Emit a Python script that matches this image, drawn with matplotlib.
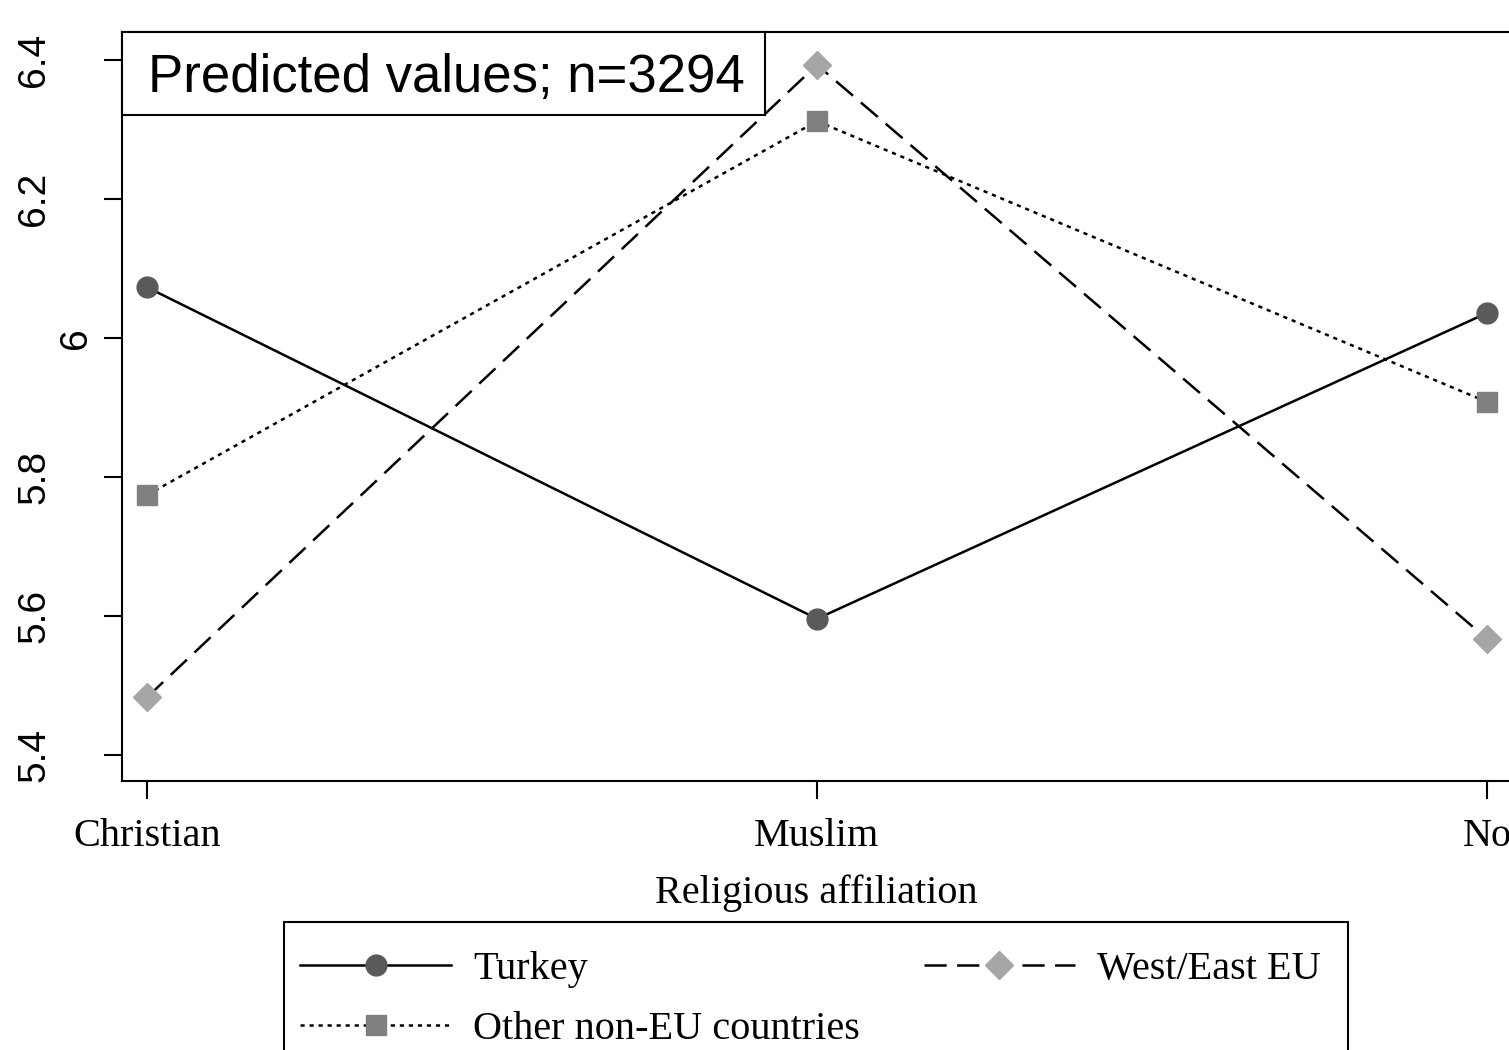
import matplotlib
matplotlib.use("Agg")
import matplotlib.pyplot as plt
from matplotlib.patches import Rectangle
from matplotlib.transforms import blended_transform_factory

categories = ["Christian", "Muslim", "No"]
turkey = [6.073, 5.596, 6.036]
west_east_eu = [5.483, 6.393, 5.567]
other_non_eu = [5.774, 6.312, 5.908]
yticks = [5.4, 5.6, 5.8, 6.0, 6.2, 6.4]
ytick_labels = ["5.4", "5.6", "5.8", "6", "6.2", "6.4"]

plt.rcParams['lines.scale_dashes'] = False
SERIF = ['Liberation Serif', 'DejaVu Serif']
SANS = ['Liberation Sans', 'DejaVu Sans']

W, H = 1509, 1050
fig = plt.figure(figsize=(W/100, H/100), dpi=100)
AX_L, AX_B, AX_W, AX_H = 122, 781, 1390, 749
ax = fig.add_axes([AX_L/W, 1-AX_B/H, AX_W/W, AX_H/H])

x = list(range(len(categories)))
lw = 1.8
ax.plot(x, turkey, color='black', lw=lw, linestyle='-', marker='o', markersize=15,
        markerfacecolor='#5a5a5a', markeredgecolor='#5a5a5a', label='Turkey', zorder=3)
ax.plot(x, west_east_eu, color='black', lw=lw, linestyle=(0, (16, 7.5)), marker='D', markersize=14,
        markerfacecolor='#a6a6a6', markeredgecolor='#a6a6a6', label='West/East EU', zorder=3)
ax.plot(x, other_non_eu, color='black', lw=lw, linestyle=(0, (3, 3.5)), marker='s', markersize=14,
        markerfacecolor='#808080', markeredgecolor='#808080', label='Other non-EU countries', zorder=3)

ax.set_xlim(-0.0373, 2.0373)
ax.set_ylim(5.3626, 6.4403)
ax.set_xticks(x)
ax.set_xticklabels(categories, fontsize=29, family=SERIF)
ax.set_yticks(yticks)
ax.tick_params(axis='y', labelleft=False)
ax.tick_params(axis='both', direction='out', length=13, width=1.5, color='black')
ax.tick_params(axis='x', pad=14)
for s in ax.spines.values():
    s.set_linewidth(1.5)

# y tick labels (rotated, placed as in the reference)
ytrans = blended_transform_factory(ax.transAxes, ax.transData)
for v, lab in zip(yticks, ytick_labels):
    cx = 75.5 if len(lab) == 1 else 34
    ax.text((cx-AX_L)/AX_W, v, lab, transform=ytrans, rotation=90, ha='center', va='center',
            fontsize=28, family=SANS)

ax.set_xlabel("Religious affiliation", fontsize=29, family=SERIF)
ax.xaxis.set_label_coords(0.4993, -(893-AX_B)/AX_H)
ax.xaxis.label.set_va('center')

# annotation box
ax.add_patch(Rectangle((0, 1-83/AX_H), 643/AX_W, 83/AX_H, transform=ax.transAxes,
                       facecolor='white', edgecolor='black', lw=1.5, clip_on=False, zorder=5))
ax.text((446.5-AX_L)/AX_W, 1-(78-32)/AX_H, "Predicted values; n=3294", transform=ax.transAxes,
        ha='center', va='center', fontsize=38, family=SANS, zorder=6)

# legend frame (extends past the bottom edge as in the reference)
fig.patches.append(Rectangle((284/W, -20/H), (1348-284)/W, (1050-922+20)/H,
                             transform=fig.transFigure, facecolor='white', edgecolor='black',
                             lw=1.5, zorder=0))

h, l = ax.get_legend_handles_labels()
order = [0, 2, 1]
leg = fig.legend([h[i] for i in order], [l[i] for i in order], ncol=2, loc='upper left',
                 bbox_to_anchor=(284/W, 1-935/H), frameon=False,
                 prop={'family': SERIF, 'size': 29}, handlelength=3.75, handletextpad=0.55,
                 columnspacing=1.58, borderpad=0.4, labelspacing=0.55, borderaxespad=0)

fig.savefig("out.png", dpi=100)
